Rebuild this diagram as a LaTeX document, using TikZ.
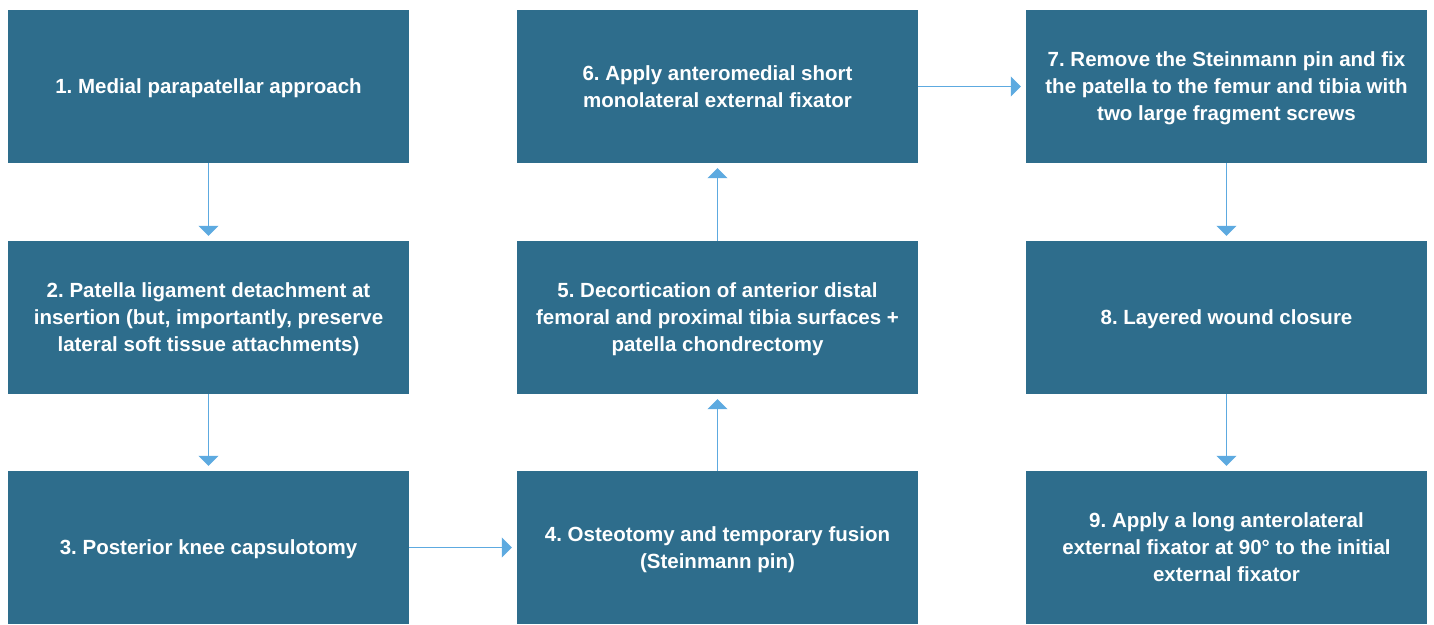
\documentclass[tikz,border=0pt]{standalone}
\usepackage{fontspec}
\setmainfont{Liberation Sans}
\usetikzlibrary{arrows.meta}

\definecolor{stepblue}{HTML}{2E6D8C}
\definecolor{arrowblue}{HTML}{5DAAE0}

\tikzset{
  stepbox/.style={fill=stepblue,text=white,minimum width=401pt,minimum height=153pt,
    inner sep=0pt,text depth=0pt,align=center,font=\fontsize{20.5pt}{27pt}\selectfont\bfseries\frenchspacing},
  flow/.style={arrowblue,line width=1.5pt,-{Triangle[width=20pt,length=10pt]},shorten >=5pt}
}

\begin{document}
\begin{tikzpicture}[x=1pt,y=-1pt]
    \useasboundingbox (0,0) rectangle (1434,624);

    % left column
    \node[stepbox] (s1) at (208.5,86.5) {1. Medial parapatellar approach};
    \node[stepbox] (s2) at (208.5,317.5) {2. Patella ligament detachment at\\insertion (but, importantly, preserve\\lateral soft tissue attachments)};
    \node[stepbox] (s3) at (208.5,547.5) {3. Posterior knee capsulotomy};

    % middle column
    \node[stepbox] (s4) at (717.5,547.5) {4. Osteotomy and temporary fusion\\(Steinmann pin)};
    \node[stepbox] (s5) at (717.5,317.5) {5. Decortication of anterior distal\\femoral and proximal tibia surfaces +\\patella chondrectomy};
    \node[stepbox] (s6) at (717.5,86.5) {6. Apply anteromedial short\\monolateral external fixator};

    % right column
    \node[stepbox] (s7) at (1226.5,86.5) {7. Remove the Steinmann pin and fix\\the patella to the femur and tibia with\\two large fragment screws};
    \node[stepbox] (s8) at (1226.5,317.5) {8. Layered wound closure};
    \node[stepbox] (s9) at (1226.5,547.5) {9. Apply a long anterolateral\\external fixator at 90\textdegree{} to the initial\\external fixator};

    \draw[flow] (s1) -- (s2);
    \draw[flow] (s2) -- (s3);
    \draw[flow] (s3) -- (s4);
    \draw[flow] (s4) -- (s5);
    \draw[flow] (s5) -- (s6);
    \draw[flow] (s6) -- (s7);
    \draw[flow] (s7) -- (s8);
    \draw[flow] (s8) -- (s9);
\end{tikzpicture}
\end{document}
